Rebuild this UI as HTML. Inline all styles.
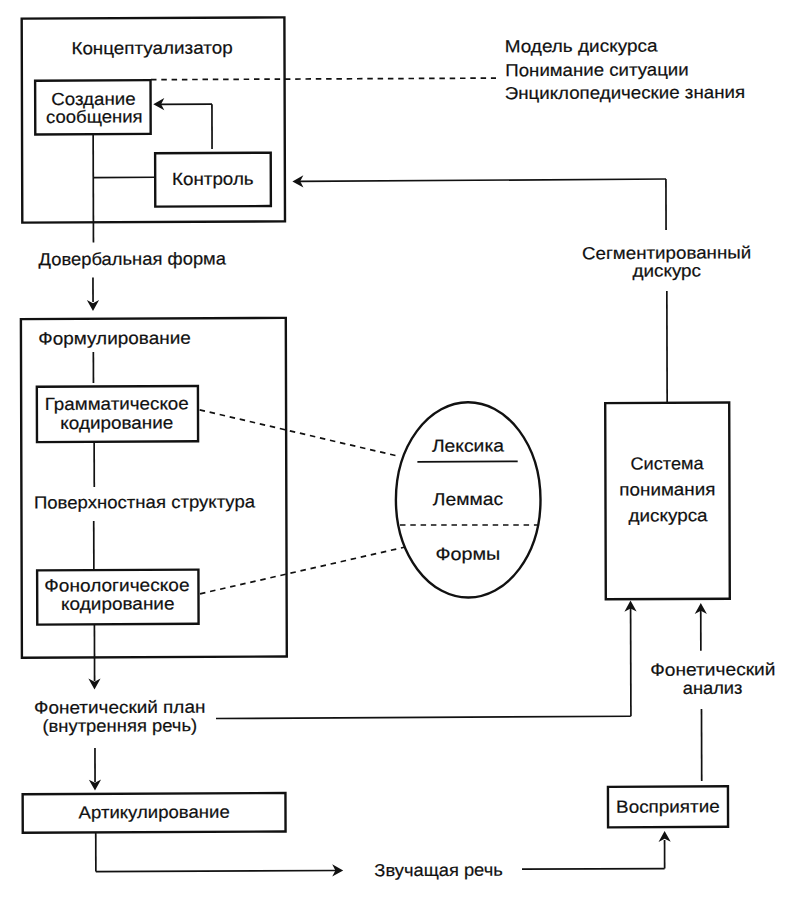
<!DOCTYPE html>
<html><head><meta charset="utf-8"><style>
html,body{margin:0;padding:0;background:#fff;width:800px;height:897px;overflow:hidden}
svg{display:block}
text{font-family:"Liberation Sans", sans-serif}
</style></head><body>
<svg width="800" height="897" viewBox="0 0 800 897">
<rect width="800" height="897" fill="#fff"/>
<g transform="matrix(1,-0.005,0.003,1,-1.3455,2.0000)">
<g fill="none" stroke="#111" stroke-width="2.4" stroke-linecap="square" stroke-linejoin="miter">
<g transform="translate(0.989,-1.228)"><rect x="22" y="18" width="262.7" height="204"/></g>
<g transform="translate(1.028,-1.530)"><rect x="35.2" y="80.4" width="115.4" height="53.8"/></g>
<g transform="translate(0.809,-0.931)"><rect x="155.2" y="153" width="115.6" height="53.3"/></g>
<g transform="translate(-0.114,-1.231)"><rect x="21.4" y="318.5" width="264.9" height="338.6"/></g>
<g transform="translate(0.108,-1.412)"><rect x="36.9" y="386.4" width="161.1" height="55.3"/></g>
<g transform="translate(-0.442,-1.413)"><rect x="37.2" y="570" width="161.3" height="54.2"/></g>
<g transform="translate(-1.089,-1.235)"><rect x="22.7" y="793.6" width="262.8" height="38.5"/></g>
<g transform="translate(-0.161,1.337)"><rect x="605.5" y="402.8" width="124" height="196.2"/></g>
<g transform="translate(-1.079,1.335)"><rect x="608" y="786.6" width="120" height="40.5"/></g>
<g transform="translate(-0.155,0.340)"><ellipse cx="468.2" cy="499.9" rx="72.3" ry="97.6"/></g>
</g>
<g fill="none" stroke="#111" stroke-width="1.7" stroke-linecap="butt">
<g transform="translate(0.785,-1.530)"><path d="M93.3,134 V242.5"/></g>
<g transform="translate(0.817,-1.375)"><path d="M93.3,177.4 H155"/></g>
<g transform="translate(0.969,-0.935)"><path d="M212,149 V104.2"/></g>
<g transform="translate(1.036,-1.070)"><path d="M212,104.2 H158"/></g>
<g transform="translate(0.481,-1.533)"><path d="M93,277.5 V302"/></g>
<g transform="translate(0.248,-1.532)"><path d="M93.4,352 V383"/></g>
<g transform="translate(-0.042,-1.529)"><path d="M94.2,441 V487"/></g>
<g transform="translate(-0.286,-1.532)"><path d="M93.8,521 V570"/></g>
<g transform="translate(-0.609,-1.531)"><path d="M94.5,625 V681"/></g>
<g transform="translate(-0.945,-1.530)"><path d="M95,748 V782"/></g>
<g transform="translate(-1.207,-1.527)"><path d="M95.8,833 V871.6"/></g>
<g transform="translate(-1.221,1.317)"><path d="M664.6,868.6 V840"/></g>
<g transform="translate(-0.894,1.504)"><path d="M701.6,781 V709"/></g>
<g transform="translate(-0.550,1.501)"><path d="M700.8,650.75 V610"/></g>
<g transform="translate(-0.644,1.151)"><path d="M630.75,716.25 V608"/></g>
<g transform="translate(0.302,1.337)"><path d="M667,402 V291"/></g>
<g transform="translate(0.728,1.334)"><path d="M666,230 V179"/></g>
<path d="M94.535,870.073 L334.735,870.174"/>
<path d="M520.736,869.804 L663.336,869.917"/>
<path d="M215.193,717.576 L629.943,717.400"/>
<path d="M666.804,180.334 L300.803,180.904"/>
<g transform="translate(-0.040,0.338)"><path d="M417.4,461.6 H517.7" stroke-width="1.9"/></g>
</g>
<g fill="none" stroke="#111" stroke-width="1.7" stroke-dasharray="5.5 4.8" stroke-linecap="butt">
<path d="M152.110,78.461 L497.110,78.586"/>
<path d="M199.719,408.799 L397.578,455.988"/>
<path d="M199.567,592.798 L403.904,547.270"/>
<path d="M399.771,524.999 L537.568,525.688"/>
</g>
<g fill="#111" stroke="none">
<path transform="translate(154.337,102.972) rotate(180)" d="M0,0 L-11,-6.1 L-7.8,0 L-11,6.1 Z"/>
<path transform="translate(93.417,309.467) rotate(90)" d="M0,0 L-11,-6.1 L-7.8,0 L-11,6.1 Z"/>
<path transform="translate(93.782,687.969) rotate(90)" d="M0,0 L-11,-6.1 L-7.8,0 L-11,6.1 Z"/>
<path transform="translate(93.978,789.070) rotate(90)" d="M0,0 L-11,-6.1 L-7.8,0 L-11,6.1 Z"/>
<path transform="translate(341.935,870.110) rotate(0)" d="M0,0 L-11,-6.1 L-7.8,0 L-11,6.1 Z"/>
<path transform="translate(663.449,832.217) rotate(270)" d="M0,0 L-11,-6.1 L-7.8,0 L-11,6.1 Z"/>
<path transform="translate(700.332,604.502) rotate(270)" d="M0,0 L-11,-6.1 L-7.8,0 L-11,6.1 Z"/>
<path transform="translate(630.040,601.750) rotate(270)" d="M0,0 L-11,-6.1 L-7.8,0 L-11,6.1 Z"/>
<path transform="translate(293.203,180.866) rotate(180)" d="M0,0 L-11,-6.1 L-7.8,0 L-11,6.1 Z"/>
</g>
<g font-family="Liberation Sans, sans-serif" font-size="17.5" fill="#111" stroke="#111" stroke-width="0.2">
<text x="72.597" y="52.663" textLength="161.28" lengthAdjust="spacingAndGlyphs">Концептуализатор</text>
<text x="52.243" y="103.361" textLength="84.43" lengthAdjust="spacingAndGlyphs">Создание</text>
<text x="46.983" y="121.135" textLength="96.64" lengthAdjust="spacingAndGlyphs">сообщения</text>
<text x="172.849" y="183.864" textLength="81.59" lengthAdjust="spacingAndGlyphs">Контроль</text>
<text x="505.888" y="52.829" textLength="152.81" lengthAdjust="spacingAndGlyphs">Модель дискурса</text>
<text x="506.456" y="76.782" textLength="183.37" lengthAdjust="spacingAndGlyphs">Понимание ситуации</text>
<text x="505.793" y="99.729" textLength="240.33" lengthAdjust="spacingAndGlyphs">Энциклопедические знания</text>
<text x="39.175" y="263.496" textLength="187.35" lengthAdjust="spacingAndGlyphs">Довербальная форма</text>
<text x="582.569" y="260.113" textLength="169.26" lengthAdjust="spacingAndGlyphs">Сегментированный</text>
<text x="632.917" y="277.865" textLength="68.67" lengthAdjust="spacingAndGlyphs">дискурс</text>
<text x="38.615" y="342.693" textLength="152.48" lengthAdjust="spacingAndGlyphs">Формулирование</text>
<text x="44.879" y="408.224" textLength="143.98" lengthAdjust="spacingAndGlyphs">Грамматическое</text>
<text x="60.430" y="427.302" textLength="112.91" lengthAdjust="spacingAndGlyphs">кодирование</text>
<text x="33.751" y="506.769" textLength="221.18" lengthAdjust="spacingAndGlyphs">Поверхностная структура</text>
<text x="43.933" y="589.820" textLength="145.16" lengthAdjust="spacingAndGlyphs">Фонологическое</text>
<text x="60.622" y="608.203" textLength="113.43" lengthAdjust="spacingAndGlyphs">кодирование</text>
<text x="431.886" y="451.959" textLength="72.14" lengthAdjust="spacingAndGlyphs">Лексика</text>
<text x="432.690" y="505.363" textLength="70.37" lengthAdjust="spacingAndGlyphs">Леммас</text>
<text x="435.124" y="560.176" textLength="64.90" lengthAdjust="spacingAndGlyphs">Формы</text>
<text x="630.327" y="470.752" textLength="73.21" lengthAdjust="spacingAndGlyphs">Система</text>
<text x="619.159" y="496.696" textLength="96.19" lengthAdjust="spacingAndGlyphs">понимания</text>
<text x="628.282" y="522.641" textLength="79.07" lengthAdjust="spacingAndGlyphs">дискурса</text>
<text x="33.270" y="711.766" textLength="171.35" lengthAdjust="spacingAndGlyphs">Фонетический план</text>
<text x="41.547" y="730.208" textLength="154.75" lengthAdjust="spacingAndGlyphs">(внутренняя речь)</text>
<text x="649.522" y="676.948" textLength="125.30" lengthAdjust="spacingAndGlyphs">Фонетический</text>
<text x="682.000" y="695.410" textLength="59.74" lengthAdjust="spacingAndGlyphs">анализ</text>
<text x="77.502" y="816.788" textLength="151.18" lengthAdjust="spacingAndGlyphs">Артикулирование</text>
<text x="373.099" y="876.165" textLength="128.37" lengthAdjust="spacingAndGlyphs">Звучащая речь</text>
<text x="614.976" y="813.825" textLength="103.68" lengthAdjust="spacingAndGlyphs">Восприятие</text>
</g>
</g>
</svg>
</body></html>
